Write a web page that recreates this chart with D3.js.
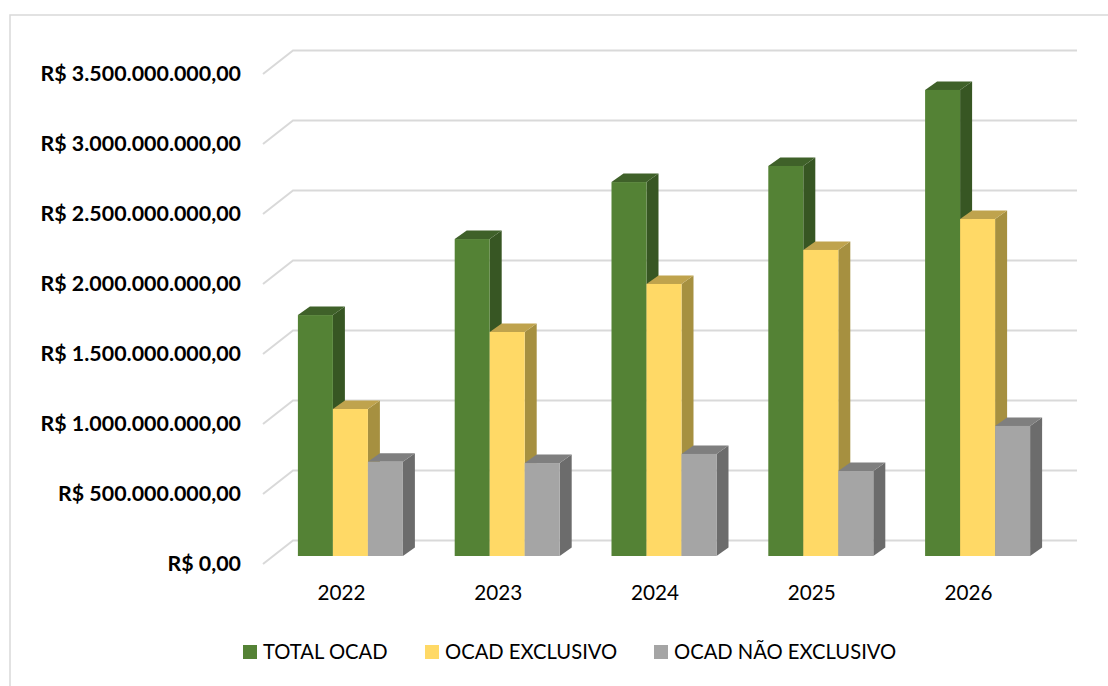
<!DOCTYPE html>
<html>
<head>
<meta charset="utf-8">
<script src="https://cdn.jsdelivr.net/npm/d3@7"></script>
<style>
    html, body { margin: 0; padding: 0; background: #fff; }
    svg { display: block; }
    text { font-family: Lato, "Open Sans", sans-serif; fill: #000; }
</style>
</head>
<body>
<div id="container"><svg></svg></div>
<script>
const width = 1108, height = 686;

const years = ['2022', '2023', '2024', '2025', '2026'];
const series_names = ['TOTAL OCAD', 'OCAD EXCLUSIVO', 'OCAD NÃO EXCLUSIVO'];
const total_ocad = [1721000000, 2264000000, 2671000000, 2786000000, 3329000000];
const ocad_exclusivo = [1050000000, 1600000000, 1943000000, 2186000000, 2407000000];
const ocad_nao_exclusivo = [673000000, 664000000, 729000000, 607000000, 929000000];
const y_ticks = [0, 500000000, 1000000000, 1500000000, 2000000000, 2500000000, 3000000000, 3500000000];

const series_values = [total_ocad, ocad_exclusivo, ocad_nao_exclusivo];
const colors = [
    { front: '#548235', side: '#375623', top: '#3f6129' },
    { front: '#ffd966', side: '#a69040', top: '#bfa34d' },
    { front: '#a5a5a5', side: '#6c6c6c', top: '#7f7f7f' }
];

// 3d box: floor depth and bar depth, in pixels
const wall = { dx: 30, dy: 23.5 };
const bar_depth = { dx: 12, dy: 8.5 };
const bar_offset = { dx: 9, dy: 8 };

let svg = d3.select('#container').select('svg')
    .attr('width', width)
    .attr('height', height);

// chart frame
svg.append('rect')
    .attr('x', 10).attr('y', 15)
    .attr('width', 1120).attr('height', 700)
    .attr('fill', 'none')
    .attr('stroke', '#d9d9d9')
    .attr('stroke-width', 1.5);

// y scale is on the front plane of the box
let y = d3.scaleLinear().domain([0, 3500000000]).range([564, 74]);
let x = d3.scaleBand().domain(years).range([263, 1047]).padding(0);
let x_inner = d3.scaleBand().domain(d3.range(3)).range([0, 105]);

function brl(v) {
    let s = d3.format(',')(v).replace(/,/g, '.');
    return 'R$ ' + s + ',00';
}

// grid: side wall diagonal then back wall line
svg.append('g')
    .selectAll('path')
    .data(y_ticks)
    .enter().append('path')
    .attr('d', d => {
        let p = d3.path();
        p.moveTo(x.range()[0], y(d));
        p.lineTo(x.range()[0] + wall.dx, y(d) - wall.dy);
        p.lineTo(x.range()[1] + wall.dx, y(d) - wall.dy);
        return p.toString();
    })
    .attr('fill', 'none')
    .attr('stroke', '#d9d9d9')
    .attr('stroke-width', 2);

// y axis
let axis_y = d3.axisLeft(y)
    .tickValues(y_ticks)
    .tickSize(0)
    .tickPadding(0)
    .tickFormat(brl);
svg.append('g')
    .attr('transform', 'translate(241, 0)')
    .call(axis_y)
    .call(g => g.select('.domain').remove())
    .selectAll('text')
    .attr('font-size', '21.4px')
    .attr('font-weight', 'bold')
    .style('font-family', 'Lato');

// x axis
let axis_x = d3.axisBottom(x).tickSize(0).tickPadding(0);
svg.append('g')
    .attr('transform', 'translate(0, 585)')
    .call(axis_x)
    .call(g => g.select('.domain').remove())
    .selectAll('text')
    .attr('font-size', '20.7px')
    .style('font-family', 'Lato');

// bars, drawn left to right so the next bar covers the side of the last
let bars = svg.append('g');
let bar_w = x_inner.bandwidth();
let base = y(0) - bar_offset.dy;

years.forEach((year, i) => {
    let x0 = x(year) + (x.bandwidth() - 105) / 2 + bar_offset.dx;
    series_values.forEach((values, s) => {
        let c = colors[s];
        let left = x0 + x_inner(s);
        let right = left + bar_w;
        let top = y(values[i]) - bar_offset.dy;
        let d = bar_depth;
        let g = bars.append('g');
        // side
        g.append('polygon')
            .attr('points', [[right, top], [right + d.dx, top - d.dy], [right + d.dx, base - d.dy], [right, base]].join(' '))
            .attr('fill', c.side);
        // top
        g.append('polygon')
            .attr('points', [[left, top], [left + d.dx, top - d.dy], [right + d.dx, top - d.dy], [right, top]].join(' '))
            .attr('fill', c.top);
        // front
        g.append('rect')
            .attr('x', left)
            .attr('y', top)
            .attr('width', bar_w)
            .attr('height', base - top)
            .attr('fill', c.front);
    });
});

// legend
const legend_x = [243, 425, 654];
let legend = svg.append('g')
    .selectAll('g')
    .data(series_names)
    .enter().append('g')
    .attr('transform', (d, i) => `translate(${legend_x[i]}, 645)`);
legend.append('rect')
    .attr('width', 14).attr('height', 14)
    .attr('fill', (d, i) => colors[i].front);
legend.append('text')
    .attr('x', 20)
    .attr('y', 13.5)
    .attr('font-size', '20.2px')
    .text(d => d);
</script>
</body>
</html>
